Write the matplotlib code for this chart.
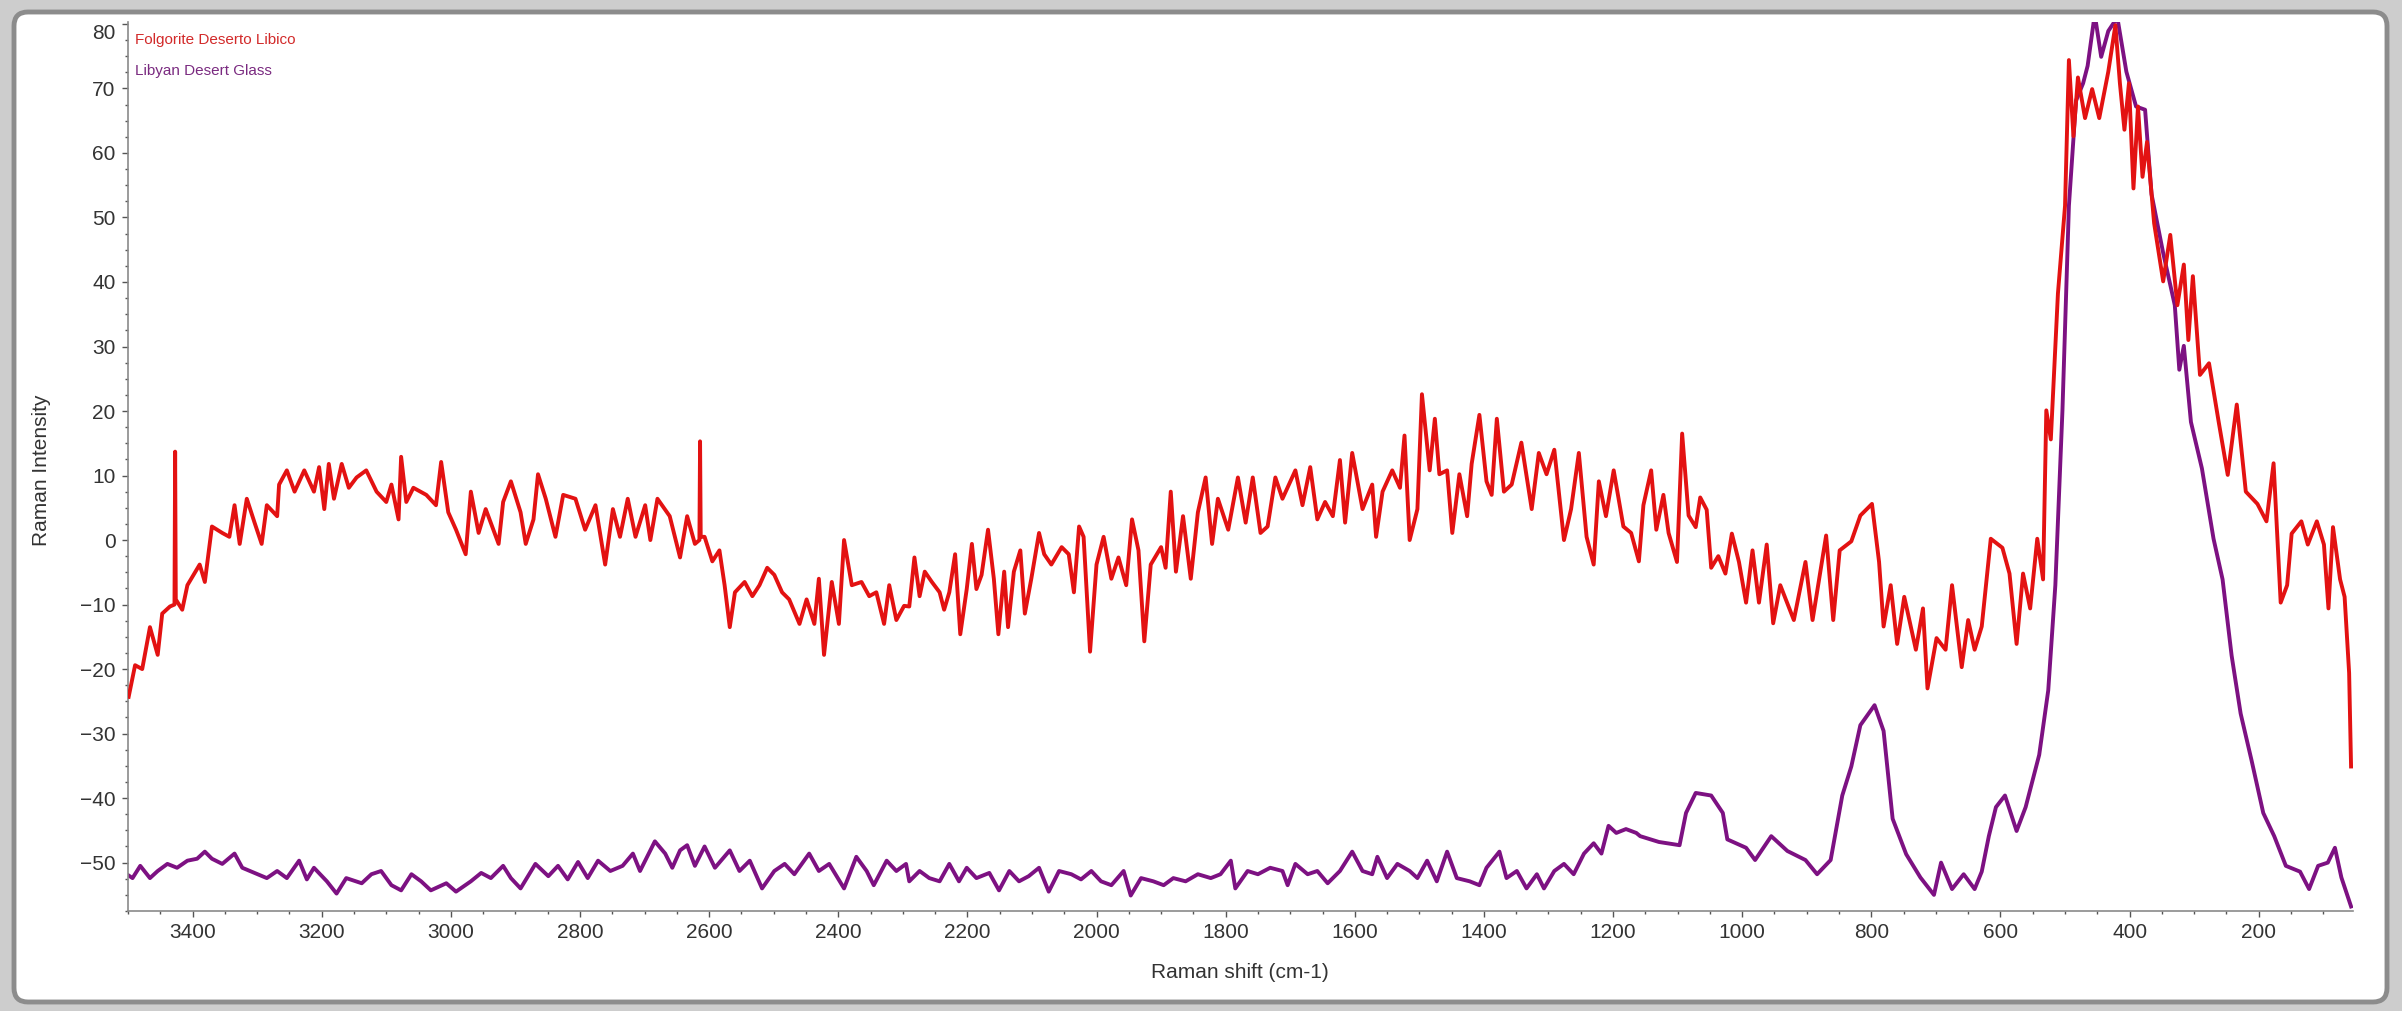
import numpy as np
import matplotlib
matplotlib.use('Agg')
import matplotlib.pyplot as plt
import matplotlib.patches as mpatches
from matplotlib.ticker import MultipleLocator

plt.rcParams['font.family'] = ['Liberation Sans', 'DejaVu Sans']

# Folgorite Deserto Libico (red)
red_x = [3499, 3489, 3478, 3466, 3454, 3447, 3435, 3428, 3427, 3426, 3416, 3408, 3389, 3381, 3370, 3354,
         3343, 3335, 3327, 3316, 3304, 3293, 3285, 3269, 3266, 3254, 3242, 3227, 3212, 3204, 3196, 3189,
         3181, 3169, 3158, 3146, 3131, 3115, 3100, 3092, 3081, 3077, 3069, 3058, 3038, 3023, 3015, 3004,
         2992, 2977, 2969, 2957, 2946, 2926, 2919, 2907, 2892, 2884, 2872, 2865, 2853, 2838, 2826, 2807,
         2792, 2776, 2761, 2749, 2738, 2726, 2714, 2699, 2691, 2680, 2661, 2645, 2634, 2622, 2615, 2614,
         2613, 2607, 2595, 2584, 2576, 2568, 2560, 2545, 2533, 2522, 2510, 2499, 2487, 2476, 2460, 2449,
         2437, 2430, 2422, 2410, 2399, 2391, 2379, 2364, 2352, 2341, 2329, 2321, 2310, 2298,
         2290, 2282, 2274, 2266, 2255, 2243, 2236, 2228, 2219, 2211, 2201, 2193, 2186, 2178, 2168, 2159,
         2152, 2143, 2137, 2128, 2118, 2111, 2101, 2089, 2081, 2070, 2054, 2043, 2035, 2027, 2020, 2010,
         2000, 1989, 1977, 1966, 1954, 1945, 1935, 1926, 1916, 1900, 1893, 1885, 1877, 1866, 1854, 1843,
         1831, 1821, 1812, 1796, 1781, 1769, 1758, 1746, 1735, 1723, 1712, 1692, 1681, 1669, 1658, 1646,
         1634, 1623, 1615, 1604, 1588, 1573, 1567, 1557, 1542, 1530, 1523, 1515, 1503, 1496, 1484, 1476,
         1469, 1457, 1449, 1438, 1426, 1419, 1407, 1396, 1388, 1380, 1369, 1357, 1342, 1326, 1315, 1303,
         1291, 1276, 1265, 1253, 1241, 1230, 1222, 1211, 1199, 1184, 1172, 1160, 1153, 1141, 1133, 1122,
         1114,
         1101, 1093, 1083, 1072, 1065, 1055, 1048, 1037, 1026, 1016, 1005, 994, 984, 974, 962, 952,
         941, 920, 902, 891, 870, 859, 849, 831, 817, 799, 788, 781, 770, 760, 749, 731,
         720, 713, 699, 685, 675, 660, 650, 640, 629, 615, 597, 586, 575, 565, 554, 543,
         534, 529, 522, 511, 500, 494, 487, 480, 469, 458, 447, 433, 422, 415, 408, 401,
         394, 387, 380, 373, 362, 348, 337, 326, 316, 309, 302, 291, 277, 262, 248, 234,
         220, 202, 188, 177, 166, 156, 149, 134, 124, 110, 99, 92, 85, 74, 67, 60, 57]
red_y = [-24.3, -19.4, -20.0, -13.5, -17.8, -11.4, -10.3, -10.0, 13.7, -9.2, -10.8, -7.0, -3.8, -6.5, 2.1, 1.1,
         0.5, 5.4, -0.6, 6.4, 2.7, -0.6, 5.4, 3.7, 8.6, 10.8, 7.5, 10.8, 7.5, 11.3, 4.8, 11.8,
         6.4, 11.8, 8.1, 9.7, 10.8, 7.5, 5.9, 8.6, 3.2, 12.9, 5.9, 8.1, 7.0, 5.4, 12.1, 4.3,
         1.6, -2.2, 7.5, 1.1, 4.8, -0.6, 5.9, 9.1, 4.3, -0.6, 3.2, 10.2, 6.4, 0.5, 7.0, 6.4,
         1.6, 5.4, -3.8, 4.8, 0.5, 6.4, 0.5, 5.4, 0.0, 6.4, 3.7, -2.7, 3.7, -0.6, 0.0, 15.3,
         0.5, 0.5, -3.3, -1.6, -7.0, -13.5, -8.1, -6.5, -8.7, -7.0, -4.3, -5.4, -8.1, -9.2, -13.0, -9.2,
         -13.0, -6.0, -17.8, -6.5, -13.0, 0.0, -7.0, -6.5, -8.7, -8.1, -13.0, -7.0, -12.4, -10.2,
         -10.3, -2.7, -8.7, -4.9, -6.5, -8.1, -10.8, -8.1, -2.2, -14.6, -7.6, -0.6, -7.6, -5.4, 1.6, -6.0,
         -14.6, -4.9, -13.5, -4.9, -1.6, -11.4, -6.0, 1.1, -2.2, -3.8, -1.1, -2.2, -8.1, 2.1, 0.5, -17.3,
         -3.8, 0.5, -6.0, -2.7, -7.0, 3.2, -1.6, -15.7, -3.8, -1.1, -4.3, 7.5, -4.9, 3.7, -6.0, 4.3,
         9.7, -0.6, 6.4, 1.6, 9.7, 2.7, 9.7, 1.1, 2.1, 9.7, 6.4, 10.8, 5.4, 11.3, 3.2, 5.9,
         3.7, 12.4, 2.7, 13.5, 4.8, 8.6, 0.5, 7.5, 10.8, 8.1, 16.2, 0.0, 4.8, 22.6, 10.8, 18.8,
         10.2, 10.8, 1.1, 10.2, 3.7, 11.8, 19.4, 9.1, 7.0, 18.8, 7.5, 8.6, 15.1, 4.8, 13.5, 10.2,
         14.0, 0.0, 4.8, 13.5, 0.5, -3.8, 9.1, 3.7, 10.8, 2.1, 1.1, -3.3, 5.4, 10.8, 1.6, 7.0,
         1.1,
         -3.4, 16.5, 3.8, 2.0, 6.6, 4.7, -4.3, -2.5, -5.2, 1.0, -3.4, -9.7, -1.6, -9.7, -0.7, -12.9,
         -7.0, -12.4, -3.4, -12.4, 0.7, -12.4, -1.6, -0.2, 3.8, 5.6, -3.4, -13.4, -7.0, -16.1, -8.8, -17.0,
         -10.6, -23.0, -15.2, -17.0, -7.0, -19.7, -12.4, -17.0, -13.4, 0.2, -1.2, -5.2, -16.1, -5.2, -10.6, 0.2,
         -6.1, 20.1, 15.6, 38.2, 51.8, 74.4, 62.6, 71.7, 65.4, 69.9, 65.4, 72.6, 79.8, 70.8, 63.6, 70.8,
         54.5, 67.2, 56.3, 61.7, 49.1, 40.1, 47.3, 36.4, 42.7, 31.0, 40.9, 25.6, 27.4, 18.3, 10.1, 21.0,
         7.5, 5.6, 2.9, 11.9, -9.7, -7.0, 1.0, 2.9, -0.7, 2.9, -0.7, -10.6, 2.0, -6.1, -8.8, -20.6, -35.1]

# Libyan Desert Glass (purple)
glass_x = [3499, 3493, 3481, 3466, 3454, 3439, 3424, 3408, 3393, 3381, 3370, 3354, 3335, 3323, 3304, 3285,
           3269, 3254, 3235, 3223, 3212, 3192, 3177, 3162, 3138, 3123, 3108, 3092, 3077, 3061, 3046, 3031,
           3007, 2992, 2969, 2953, 2938, 2919, 2907, 2892, 2869, 2849, 2834, 2819, 2803, 2788, 2772, 2753,
           2734, 2718, 2707, 2691, 2684, 2668, 2657, 2645, 2634, 2622, 2607, 2591, 2568, 2553, 2537, 2518,
           2499, 2483, 2468, 2445, 2430, 2414, 2391, 2372, 2356, 2345, 2325, 2310, 2295,
           2290, 2274, 2259, 2243, 2228, 2213, 2201, 2186, 2166, 2151, 2135, 2120, 2105, 2089, 2074, 2058,
           2039, 2024, 2008, 1993, 1977, 1958, 1947, 1931, 1912, 1896, 1881, 1862, 1843, 1823, 1808, 1792,
           1785, 1766, 1750, 1731, 1712, 1704, 1692, 1673, 1658, 1642, 1623, 1604, 1588, 1573, 1565, 1550,
           1534, 1515, 1503, 1488, 1473, 1457, 1442, 1422, 1407, 1396, 1376, 1365, 1349, 1334, 1318, 1307,
           1291, 1276, 1261, 1245, 1230, 1218, 1207, 1195, 1180, 1164,
           1158, 1129, 1097, 1087, 1072, 1048, 1030, 1023, 994, 980, 955, 930, 902, 884, 863, 845,
           831, 817, 795, 781, 767, 746, 724, 703, 692, 675, 657, 640, 629, 618, 607, 593,
           575, 561, 540, 526, 515, 504, 494, 483, 472, 465, 454, 444, 433, 419, 405, 390,
           376, 366, 348, 330, 323, 316, 305, 288, 270, 256, 242, 228, 211, 193, 176, 158,
           136, 122, 108, 93, 82, 72, 57]
glass_y = [-52.0, -52.4, -50.5, -52.4, -51.3, -50.2, -50.8, -49.7, -49.4, -48.3, -49.4, -50.2, -48.6, -50.8, -51.6, -52.4,
           -51.3, -52.4, -49.7, -52.6, -50.8, -52.9, -54.8, -52.4, -53.2, -51.8, -51.3, -53.5, -54.3, -51.8, -52.9, -54.3,
           -53.2, -54.5, -52.9, -51.6, -52.4, -50.5, -52.4, -54.0, -50.2, -52.1, -50.5, -52.6, -49.9, -52.4, -49.7, -51.3,
           -50.5, -48.6, -51.3, -48.1, -46.7, -48.6, -50.8, -48.1, -47.3, -50.5, -47.5, -50.8, -48.1, -51.3, -49.7, -54.0,
           -51.3, -50.2, -51.8, -48.6, -51.3, -50.2, -54.0, -49.1, -51.3, -53.5, -49.7, -51.3, -50.2,
           -52.9, -51.3, -52.4, -52.9, -50.2, -52.9, -50.8, -52.4, -51.6, -54.3, -51.3, -52.9, -52.1, -50.8, -54.5, -51.3,
           -51.8, -52.6, -51.3, -52.9, -53.5, -51.3, -55.1, -52.4, -52.9, -53.5, -52.4, -52.9, -51.8, -52.4, -51.8, -49.7,
           -54.0, -51.3, -51.8, -50.8, -51.3, -53.5, -50.2, -51.8, -51.3, -53.2, -51.3, -48.3, -51.3, -51.8, -49.1, -52.4,
           -50.2, -51.3, -52.4, -49.7, -52.9, -48.3, -52.4, -52.9, -53.5, -50.8, -48.3, -52.4, -51.3, -54.0, -51.8, -54.0,
           -51.3, -50.2, -51.8, -48.6, -47.0, -48.6, -44.3, -45.4, -44.8, -45.4,
           -45.9, -46.8, -47.3, -42.3, -39.2, -39.6, -42.3, -46.4, -47.7, -49.6, -45.9, -48.2, -49.6, -51.8, -49.6, -39.6,
           -35.1, -28.7, -25.6, -29.6, -43.2, -48.7, -52.3, -55.0, -50.0, -54.1, -51.8, -54.1, -51.4, -45.9, -41.4, -39.6,
           -45.1, -41.4, -33.3, -23.3, -7.0, 20.1, 51.8, 68.1, 70.8, 73.5, 81.5, 74.9, 78.9, 81.0, 72.6, 67.2,
           66.7, 53.6, 44.5, 36.4, 26.4, 30.1, 18.3, 11.1, 0.2, -6.1, -17.9, -26.9, -34.2, -42.3, -45.9, -50.5,
           -51.4, -54.1, -50.5, -50.0, -47.7, -52.3, -56.8]

x_major = np.arange(200, 3401, 200)
y_major = np.arange(-50, 81, 10)

fig = plt.figure(figsize=(24.02, 10.11), dpi=100, facecolor='#cdcdcd')

# white rounded panel like the application window
panel = mpatches.FancyBboxPatch((14, 9), 2373, 990, boxstyle='round,pad=0,rounding_size=14',
                                transform=None, facecolor='white', edgecolor='#8c8c8c', lw=3.5, zorder=0)
fig.add_artist(panel)

ax = fig.add_axes([128 / 2402, 1 - 911 / 1011, (2353 - 128) / 2402, (911 - 22) / 1011])
ax.set_facecolor('white')

ax.plot(red_x, red_y, color='#e31212', lw=2.8, solid_joinstyle='round', zorder=3)
ax.plot(glass_x, glass_y, color='#7d1182', lw=2.8, solid_joinstyle='round', zorder=2)

ax.set_xlim(3500, 54)
ax.set_ylim(-57.5, 80.3)

ax.set_xticks(x_major)
ax.set_yticks(y_major)
ax.xaxis.set_minor_locator(MultipleLocator(50))
ax.yaxis.set_minor_locator(MultipleLocator(2.5))
ax.tick_params(which='major', direction='out', length=4, width=1, color='#555555',
               labelsize=15, labelcolor='#333333', pad=5)
ax.tick_params(which='minor', direction='out', length=2, width=1, color='#555555')

for s in ['top', 'right']:
    ax.spines[s].set_visible(False)
for s in ['left', 'bottom']:
    ax.spines[s].set_color('#8a8a8a')
    ax.spines[s].set_linewidth(1.2)

# top label sits a bit lower, as in the original software
for lab in ax.get_yticklabels():
    if lab.get_text() == '80':
        lab.set_verticalalignment('top')

fig.text(1240 / 2402, 1 - 973 / 1011, 'Raman shift (cm-1)', ha='center', va='center',
         fontsize=15, color='#333333')
fig.text(42 / 2402, 1 - 470 / 1011, 'Raman Intensity', ha='center', va='center',
         rotation=90, fontsize=15, color='#333333')

fig.text(135 / 2402, 1 - 40 / 1011, 'Folgorite Deserto Libico', ha='left', va='center',
         fontsize=11, color='#d22a2a')
fig.text(135 / 2402, 1 - 71 / 1011, 'Libyan Desert Glass', ha='left', va='center',
         fontsize=11, color='#7a2a80')

fig.savefig('out.png', dpi=100, facecolor=fig.get_facecolor())
